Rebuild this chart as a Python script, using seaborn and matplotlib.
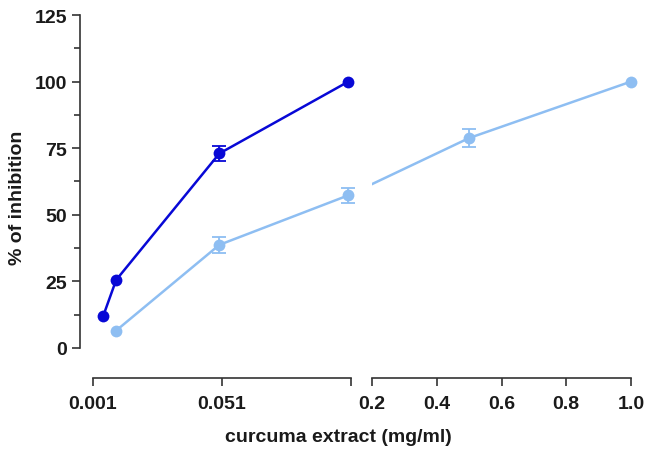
import numpy as np
import pandas as pd
import matplotlib
matplotlib.use("Agg")
import matplotlib.pyplot as plt
import seaborn as sns

# curcuma extract concentrations (mg/ml) and % of inhibition
dark_x = [0.005, 0.01, 0.05, 0.1]
dark_y = [12.0, 25.5, 73.0, 100.0]
dark_err = [0.0, 0.0, 2.8, 0.0]

light_x = [0.01, 0.05, 0.1, 0.5, 1.0]
light_y = [6.5, 38.7, 57.3, 78.8, 100.0]
light_err = [0.0, 3.0, 2.9, 3.5, 0.0]

left_ticks = [0.001, 0.051, 0.101]
left_ticklabels = ["0.001", "0.051", ""]
right_ticks = [0.2, 0.4, 0.6, 0.8, 1.0]
right_ticklabels = ["0.2", "0.4", "0.6", "0.8", "1.0"]
y_ticks = [0, 25, 50, 75, 100, 125]

dark_col = "#0808D6"
light_col = "#8EBEF2"
ink = "#1a1a1a"

sns.set_style("ticks")
plt.rcParams["font.family"] = ["Liberation Sans", "DejaVu Sans"]
plt.rcParams["font.weight"] = "bold"

dark = pd.DataFrame({"conc": dark_x, "inh": dark_y, "err": dark_err})
light = pd.DataFrame({"conc": light_x, "inh": light_y, "err": light_err})

fig = plt.figure(figsize=(6.53, 4.6), dpi=100)
ax1 = fig.add_axes([80 / 653, 1 - 379 / 460, 271 / 653, 363 / 460])
ax2 = fig.add_axes([372 / 653, 1 - 379 / 460, 259 / 653, 363 / 460])

ax1.set_xlim(0.001 - 13 / 2600, 0.101)
ax2.set_xlim(0.2, 1.0)
for ax in (ax1, ax2):
    ax.set_ylim(-11.3, 125)

lw = 1.8
ms = 8.5

def draw(ax, df, col):
    e = df[df["err"] > 0]
    if len(e):
        ax.errorbar(e["conc"], e["inh"], yerr=e["err"], fmt="none", ecolor=col,
                    elinewidth=1.3, capsize=5, capthick=1.3, clip_on=False, zorder=3)
    sns.lineplot(data=df, x="conc", y="inh", ax=ax, color=col, marker="o",
                 markersize=ms, markeredgewidth=0, linewidth=lw, clip_on=False,
                 zorder=4, legend=False)

draw(ax1, dark, dark_col)
draw(ax1, light[light["conc"] <= 0.101], light_col)
draw(ax2, light[light["conc"] >= 0.2], light_col)

# light line continues across the axis break (straight in display space)
last_left = light[light["conc"] <= 0.101].iloc[-1]
first_right = light[light["conc"] >= 0.2].iloc[0]
p_disp = ax1.transData.transform((last_left["conc"], last_left["inh"]))
p_in_ax2 = ax2.transData.inverted().transform(p_disp)
ax2.plot([p_in_ax2[0], first_right["conc"]], [p_in_ax2[1], first_right["inh"]],
         color=light_col, linewidth=lw, zorder=2, clip_on=True)

# y axis
ax1.spines["left"].set_bounds(0, 125)
ax1.set_yticks(y_ticks)
ax1.set_yticks([12.5, 37.5, 62.5, 87.5, 112.5], minor=True)
ax1.tick_params(axis="y", which="major", length=6, width=1.2, color="#333333",
                labelsize=14, labelcolor=ink)
ax1.tick_params(axis="y", which="minor", length=4, width=1.2, color="#333333")
ax1.set_ylabel("% of inhibition", fontsize=14, fontweight="bold", color=ink, labelpad=6)

ax2.spines["left"].set_visible(False)
ax2.set_yticks([])
ax2.set_ylabel("")

# x axes
ax1.spines["bottom"].set_bounds(0.001, 0.101)
ax1.set_xticks(left_ticks)
ax1.set_xticklabels(left_ticklabels)
ax2.spines["bottom"].set_bounds(0.2, 1.0)
ax2.set_xticks(right_ticks)
ax2.set_xticklabels(right_ticklabels)
for ax in (ax1, ax2):
    ax.spines["top"].set_visible(False)
    ax.spines["right"].set_visible(False)
    for s in ("left", "bottom"):
        ax.spines[s].set_linewidth(1.2)
        ax.spines[s].set_color("#333333")
    ax.tick_params(axis="x", length=6, width=1.2, color="#333333",
                   labelsize=14, labelcolor=ink, pad=6)
    ax.set_xlabel("")
    for lab in ax.get_xticklabels() + ax.get_yticklabels():
        lab.set_fontweight("bold")

fig.text(338 / 653, 1 - 438 / 460, "curcuma extract (mg/ml)", ha="center", va="center",
         fontsize=14, fontweight="bold", color=ink)

fig.savefig("out.png", dpi=100)
